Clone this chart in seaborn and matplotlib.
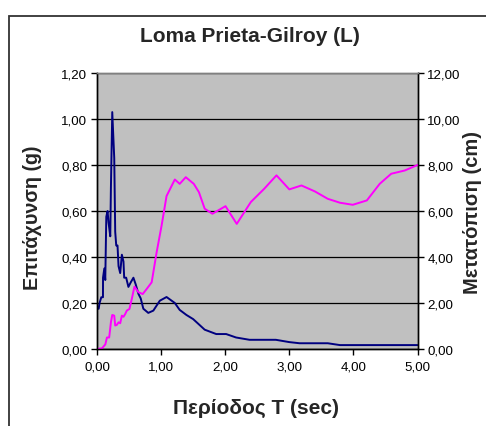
import matplotlib
matplotlib.use("Agg")
import matplotlib.pyplot as plt
import seaborn as sns
import pandas as pd
from matplotlib.patches import Rectangle

# ---- data ----
period_acc = [0.0, 0.026, 0.04, 0.067, 0.093, 0.094, 0.114, 0.129, 0.145, 0.165, 0.18, 0.207,
              0.217, 0.238, 0.269, 0.284, 0.30, 0.32, 0.336, 0.362, 0.388, 0.413, 0.424, 0.455,
              0.49, 0.527, 0.568, 0.605, 0.646, 0.682, 0.723, 0.80, 0.879, 0.98, 1.085, 1.214,
              1.29, 1.395, 1.5, 1.68, 1.86, 2.015, 2.17, 2.38, 2.79, 3.0, 3.16, 3.6, 3.79, 5.0]
acceleration = [0.175, 0.175, 0.20, 0.225, 0.225, 0.31, 0.35, 0.30, 0.575, 0.60, 0.55, 0.49,
                0.70, 1.03, 0.83, 0.51, 0.45, 0.45, 0.36, 0.33, 0.41, 0.38, 0.31, 0.31,
                0.27, 0.29, 0.31, 0.28, 0.24, 0.22, 0.175, 0.157, 0.167, 0.21, 0.226, 0.20,
                0.17, 0.148, 0.13, 0.084, 0.065, 0.065, 0.05, 0.04, 0.04, 0.03, 0.025, 0.025, 0.017, 0.017]

period_disp = [0.0, 0.078, 0.13, 0.155, 0.19, 0.217, 0.238, 0.269, 0.284, 0.31, 0.336, 0.362,
               0.388, 0.413, 0.44, 0.465, 0.506, 0.543, 0.584, 0.646, 0.713, 0.775, 0.853, 0.93,
               1.008, 1.085, 1.214, 1.29, 1.385, 1.51, 1.59, 1.68, 1.8, 2.005, 2.18, 2.40, 2.61,
               2.80, 3.0, 3.19, 3.40, 3.6, 3.79, 3.99, 4.21, 4.41, 4.59, 4.80, 5.0]
displacement = [0.0, 0.03, 0.2, 0.5, 0.5, 1.16, 1.48, 1.45, 1.02, 1.05, 1.16, 1.12,
                1.45, 1.40, 1.52, 1.67, 1.74, 2.18, 2.71, 2.47, 2.39, 2.61, 2.9, 4.2,
                5.37, 6.65, 7.37, 7.18, 7.47, 7.18, 6.82, 6.1, 5.88, 6.21, 5.44, 6.39, 6.97,
                7.55, 6.94, 7.11, 6.85, 6.53, 6.36, 6.27, 6.46, 7.18, 7.62, 7.76, 8.0]

x_ticks = [0, 1, 2, 3, 4, 5]
x_tick_labels = ["0,00", "1,00", "2,00", "3,00", "4,00", "5,00"]
left_ticks = [0.0, 0.2, 0.4, 0.6, 0.8, 1.0, 1.2]
left_tick_labels = ["0,00", "0,20", "0,40", "0,60", "0,80", "1,00", "1,20"]
right_ticks = [0, 2, 4, 6, 8, 10, 12]
right_tick_labels = ["0,00", "2,00", "4,00", "6,00", "8,00", "10,00", "12,00"]

title = "Loma Prieta-Gilroy (L)"
xlabel = "Περίοδος T (sec)"
ylabel_left = "Επιτάχυνση (g)"
ylabel_right = "Μετατόπιση (cm)"

df_acc = pd.DataFrame({"T": period_acc, "a": acceleration})
df_disp = pd.DataFrame({"T": period_disp, "d": displacement})

sns.set_style("white")
plt.rcParams['font.family'] = ['Liberation Sans', 'DejaVu Sans']

W, H = 486, 427
fig = plt.figure(figsize=(W / 100, H / 100), dpi=100)
fig.patch.set_facecolor("white")

# outer chart border (only left/top visible)
fig.patches.append(Rectangle((8.5 / W, -0.1), 1.2, 1 - 16.5 / H + 0.1, transform=fig.transFigure,
                             fill=False, edgecolor="#333333", linewidth=1.3))

left, right, top, bottom = 97 / W, 417.5 / W, 1 - 74 / H, 1 - 350 / H
ax = fig.add_axes([left, bottom, right - left, top - bottom])
ax.set_facecolor("#C0C0C0")
ax2 = ax.twinx()

sns.lineplot(data=df_acc, x="T", y="a", ax=ax, color="#000080", linewidth=1.4, sort=False,
             estimator=None)
sns.lineplot(data=df_disp, x="T", y="d", ax=ax2, color="#FF00FF", linewidth=1.4, sort=False,
             estimator=None)

ax.set_xlim(0, 5)
ax.set_ylim(0, 1.2)
ax2.set_ylim(0, 12)
ax.set_xticks(x_ticks)
ax.set_xticklabels(x_tick_labels)
ax.set_yticks(left_ticks)
ax.set_yticklabels(left_tick_labels)
ax2.set_yticks(right_ticks)
ax2.set_yticklabels(right_tick_labels)

ax.grid(axis="y", color="black", linewidth=0.9)
ax.set_axisbelow(True)
ax.grid(axis="x", visible=False)

for a in (ax, ax2):
    for s in a.spines.values():
        s.set_color("#808080")
        s.set_linewidth(1.0)
    a.spines["left"].set_color("black")
    a.spines["right"].set_color("black")
    a.spines["bottom"].set_color("black")

ax.tick_params(axis="x", direction="out", length=4, width=1, labelsize=9.6, colors="black",
               bottom=True, pad=4.5)
ax.tick_params(axis="y", direction="out", length=4, width=1, labelsize=9.6, colors="black",
               left=True, pad=3)
ax2.tick_params(axis="y", direction="out", length=4, width=1, labelsize=9.6, colors="black",
                right=True, pad=3)

ax.set_xlabel("")
ax.set_ylabel("")
ax2.set_ylabel("")
fig.text(256 / W, 1 - 408 / H, xlabel, ha="center", va="center", fontsize=15, fontweight="bold")
fig.text(32 / W, 1 - 218 / H, ylabel_left, ha="center", va="center", rotation=90,
         fontsize=14.2, fontweight="bold")
fig.text(472 / W, 1 - 213 / H, ylabel_right, ha="center", va="center", rotation=90,
         fontsize=14.5, fontweight="bold")
fig.text(250 / W, 1 - 36 / H, title, ha="center", va="center", fontsize=15, fontweight="bold")

fig.savefig("out.png", dpi=100, facecolor="white")
